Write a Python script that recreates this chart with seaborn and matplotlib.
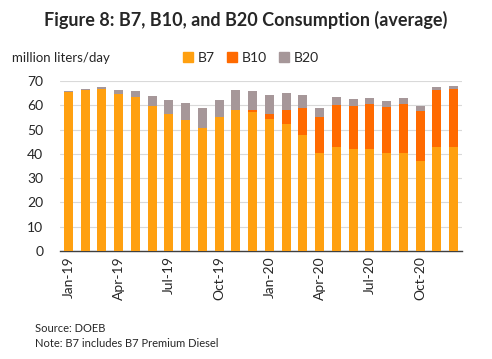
import matplotlib
matplotlib.use("Agg")
import matplotlib.pyplot as plt
import seaborn as sns
import pandas as pd
from matplotlib.patches import Patch

months = ["Jan-19", "Feb-19", "Mar-19", "Apr-19", "May-19", "Jun-19",
          "Jul-19", "Aug-19", "Sep-19", "Oct-19", "Nov-19", "Dec-19",
          "Jan-20", "Feb-20", "Mar-20", "Apr-20", "May-20", "Jun-20",
          "Jul-20", "Aug-20", "Sep-20", "Oct-20", "Nov-20", "Dec-20"]
b7 = [65.6, 66.4, 66.7, 64.7, 63.6, 59.9, 56.6, 54.0, 50.8, 55.2, 58.1, 57.3,
      54.4, 52.3, 47.8, 40.4, 42.9, 42.1, 42.1, 40.4, 40.4, 37.1, 42.9, 42.9]
b10 = [0, 0, 0, 0, 0, 0, 0, 0, 0, 0, 0, 0.8,
       2.2, 5.8, 11.2, 14.8, 17.4, 17.8, 18.6, 19.1, 20.3, 20.7, 23.4, 23.8]
b20 = [0.4, 0.4, 1.0, 1.7, 2.3, 4.1, 5.6, 7.0, 8.1, 7.0, 8.2, 7.8,
       7.6, 7.0, 5.2, 3.7, 3.1, 2.7, 2.3, 2.3, 2.3, 2.1, 1.2, 1.2]

c7, c10, c20 = "#FFA010", "#FF6A00", "#A69799"

df = pd.DataFrame({"month": months, "B7": b7, "B10": b10, "B20": b20})
df["s10"] = df["B7"] + df["B10"]
df["s20"] = df["s10"] + df["B20"]

sns.set_style("white")
plt.rcParams["font.family"] = ["Lato", "DejaVu Sans"]

fig = plt.figure(figsize=(4.92, 3.59), dpi=100)
ax = fig.add_axes([0.122, 0.301, 0.817, 0.473])

# stacked bars: draw cumulative totals back to front
kw = dict(x="month", width=0.54, saturation=1, ax=ax, zorder=3,
          linewidth=0, edgecolor="none")
sns.barplot(data=df, y="s20", color=c20, **kw)
sns.barplot(data=df, y="s10", color=c10, **kw)
sns.barplot(data=df, y="B7", color=c7, **kw)

ax.set_ylim(0, 70)
ax.set_xlim(-0.5, len(months) - 0.5)
ax.set_yticks(range(0, 71, 10))
ax.yaxis.grid(True, color="#D9D9D9", linewidth=0.8, zorder=0)
ax.set_axisbelow(True)
ax.set_xticks(range(0, len(months), 3))
ax.set_xticklabels(months[::3], rotation=90, fontsize=10)
ax.tick_params(axis="y", labelsize=10, length=0, pad=12)
ax.tick_params(axis="x", length=0, pad=4)
ax.set_xlabel("")
ax.set_ylabel("")
for s in ["left", "right", "top"]:
    ax.spines[s].set_visible(False)
ax.spines["bottom"].set_color("#404040")
ax.spines["bottom"].set_linewidth(1)

fig.text(0.5, 0.945, "Figure 8: B7, B10, and B20 Consumption (average)",
         ha="center", va="center", fontsize=13, fontweight="bold")
fig.text(0.025, 0.838, "million liters/day", ha="left", va="center", fontsize=9.5)

handles = [Patch(color=c7, label="B7"), Patch(color=c10, label="B10"),
           Patch(color=c20, label="B20")]
fig.legend(handles=handles, loc="center", bbox_to_anchor=(0.51, 0.838), ncol=3,
           frameon=False, fontsize=10, handlelength=0.7, handleheight=0.7,
           handletextpad=0.35, columnspacing=0.9)

fig.text(0.071, 0.085, "Source: DOEB", ha="left", va="center", fontsize=8)
fig.text(0.071, 0.043, "Note: B7 includes B7 Premium Diesel", ha="left",
         va="center", fontsize=8)

fig.savefig("out.png", dpi=100)
